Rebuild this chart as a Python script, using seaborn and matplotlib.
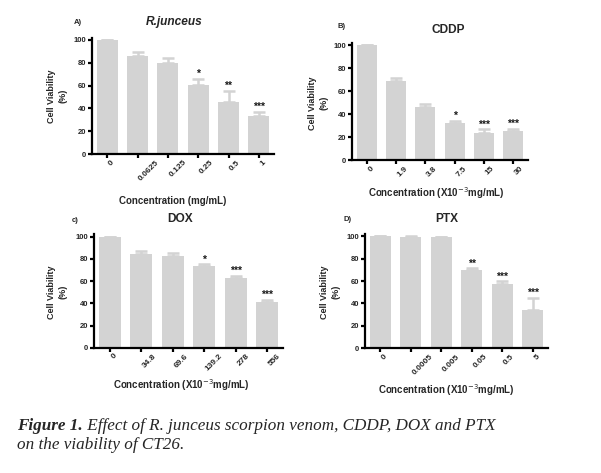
import matplotlib
matplotlib.use("Agg")
import matplotlib.pyplot as plt
import seaborn as sns
import pandas as pd

sns.set_theme(style="ticks")
plt.rcParams['font.family'] = ['Liberation Sans', 'DejaVu Sans']

# ---------------- data ----------------
labels_a = ["0", "0.0625", "0.125", "0.25", "0.5", "1"]
vals_a = [100, 86, 79.8, 60.5, 45.5, 33.3]
err_a = [0, 3.2, 4.7, 5.5, 10, 3.7]
stars_a = ["", "", "", "*", "**", "***"]

labels_b = ["0", "1.9", "3.8", "7.5", "15", "30"]
vals_b = [100, 69, 46, 32.3, 23.5, 25.3]
err_b = [0, 2, 2.4, 1.9, 3.2, 1.7]
stars_b = ["", "", "", "*", "***", "***"]

labels_c = ["0", "34.8", "69.6", "139.2", "278", "556"]
vals_c = [100, 84.4, 82.6, 73.6, 62.5, 41.2]
err_c = [0, 2.4, 2.7, 1.8, 2.1, 1.8]
stars_c = ["", "", "", "*", "***", "***"]

labels_d = ["0", "0.0005", "0.005", "0.05", "0.5", "5"]
vals_d = [100, 99.4, 99.1, 69.9, 57.4, 34.5]
err_d = [0, 0.9, 0, 1.5, 2.6, 10.7]
stars_d = ["", "", "", "**", "***", "***"]

titles = ["R.junceus", "CDDP", "DOX", "PTX"]
panel_tags = ["A)", "B)", "c)", "D)"]
xlabels = ["Concentration (mg/mL)",
           "Concentration (X10$^{-3}$mg/mL)",
           "Concentration (X10$^{-3}$mg/mL)",
           "Concentration (X10$^{-3}$mg/mL)"]
ylabel = "Cell Viability\n(%)"
caption_bold = "Figure 1."
caption_line1 = " Effect of R. junceus scorpion venom, CDDP, DOX and PTX"
caption_line2 = "on the viability of CT26."

W, H = 601, 473
BAR = "#d3d3d3"

fig = plt.figure(figsize=(W / 100, H / 100), dpi=100)
fig.patch.set_facecolor("white")


def pos(left, right, top, bottom):
    return [left / W, 1 - bottom / H, (right - left) / W, (bottom - top) / H]


# pixel layouts: axes box, title, tag, xlabel, ylabel
layouts = [
    dict(box=(92, 274, 37.7, 154), title=(174, 22), tag=(74, 22), xl=(173, 201), yl=(57.5, 96)),
    dict(box=(352, 528, 42.7, 160), title=(448, 30), tag=(338, 26), xl=(436, 193), yl=(318, 103)),
    dict(box=(94, 283, 234.5, 347.7), title=(180, 219), tag=(72, 221), xl=(181, 385), yl=(57.5, 292)),
    dict(box=(365, 548, 234, 348.3), title=(447, 219), tag=(343, 219), xl=(446, 390), yl=(330.5, 292)),
]

datasets = [
    (labels_a, vals_a, err_a, stars_a),
    (labels_b, vals_b, err_b, stars_b),
    (labels_c, vals_c, err_c, stars_c),
    (labels_d, vals_d, err_d, stars_d),
]

for k, ((labs, vals, errs, stars), lay) in enumerate(zip(datasets, layouts)):
    ax = fig.add_axes(pos(*lay["box"]))
    df = pd.DataFrame({"conc": labs, "viab": vals})
    sns.barplot(data=df, x="conc", y="viab", order=labs, color=BAR,
                saturation=1, width=0.69, errorbar=None, ax=ax, linewidth=0)
    xs = list(range(len(labs)))
    ax.errorbar(xs, vals, yerr=[[0] * len(errs), errs], fmt="none",
                ecolor=BAR, elinewidth=1.8, capsize=4.3, capthick=1.8, zorder=3)
    for x, v, e, s in zip(xs, vals, errs, stars):
        if s:
            ax.annotate(s, (x, v + e), xytext=(0, 1.2), textcoords="offset points",
                        ha="center", va="baseline", fontsize=7.5, fontweight="bold",
                        color="#1a1a1a")
    ax.set_xlim(-0.5, 5.5)
    ax.set_ylim(0, 102)
    ax.set_yticks([0, 20, 40, 60, 80, 100])
    ax.set_xlabel("")
    ax.set_ylabel("")
    sns.despine(ax=ax)
    for sp in ("left", "bottom"):
        ax.spines[sp].set_linewidth(1.6)
        ax.spines[sp].set_color("black")
    ax.tick_params(axis="both", direction="out", length=3, width=1.6, color="black", pad=1)
    ax.tick_params(axis="y", labelsize=5.5)
    ax.tick_params(axis="x", labelsize=6, pad=0.5)
    for t in ax.get_yticklabels():
        t.set_fontweight("bold")
    for t in ax.get_xticklabels():
        t.set_fontweight("bold")
        t.set_rotation(45)
        t.set_ha("left")
        t.set_va("top")
    ax.set_facecolor("white")

    tx, ty = lay["title"]
    fig.text(tx / W, 1 - ty / H, titles[k], ha="center", va="center", fontsize=8.6,
             fontweight="bold", fontstyle="italic" if k == 0 else "normal")
    gx, gy = lay["tag"]
    fig.text(gx / W, 1 - gy / H, panel_tags[k], ha="left", va="center", fontsize=5.5,
             fontweight="bold")
    lx, ly = lay["xl"]
    fig.text(lx / W, 1 - ly / H, xlabels[k], ha="center", va="center", fontsize=7,
             fontweight="bold")
    yx, yy = lay["yl"]
    fig.text(yx / W, 1 - yy / H, ylabel, ha="center", va="center", fontsize=6.5,
             fontweight="bold", rotation=90, linespacing=1.3, multialignment="center")

# caption
serif = ["Liberation Serif", "DejaVu Serif"]
t1 = fig.text(17 / W, 1 - 430 / H, caption_bold, ha="left", va="baseline",
              fontsize=12.3, fontweight="bold", fontstyle="italic", family=serif)
fig.add_artist(matplotlib.text.Annotation(
    caption_line1, xy=(1, 0), xycoords=t1, ha="left", va="bottom",
    fontsize=12.3, fontstyle="italic", family=serif, annotation_clip=False))
fig.text(17 / W, 1 - 449 / H, caption_line2, ha="left", va="baseline",
         fontsize=12.3, fontstyle="italic", family=serif)

fig.savefig("out.png", dpi=100, facecolor="white")
